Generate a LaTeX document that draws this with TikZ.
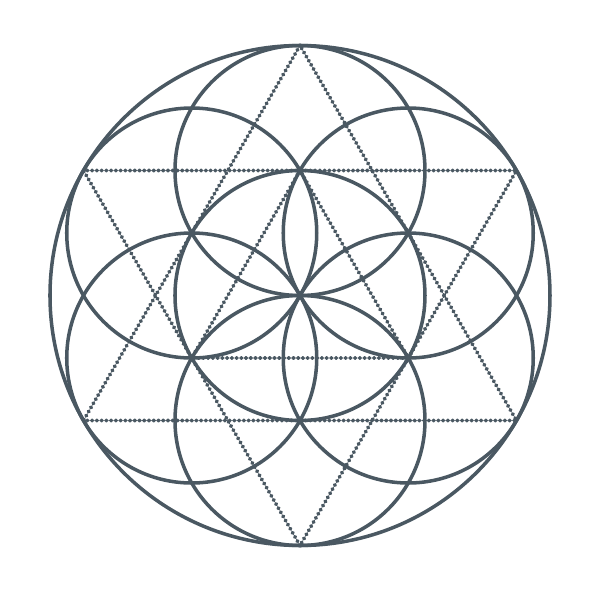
\documentclass[tikz,border=0pt]{standalone}
\usepackage{tikz}
\usetikzlibrary{positioning}
\definecolor{slate}{HTML}{4A5862}
\tikzset{
	ring/.style={draw=slate, line width=1pt},
	dotline/.style={draw=slate, line width=1.1pt, line cap=round, dash pattern=on 0.2pt off 1.15pt}
}

\begin{document}
\begin{tikzpicture}
		\useasboundingbox (-3,-3.045) rectangle (3,2.955);
		% Outer circle
		\draw[ring] (0,0) circle (2.5);
		
		% Points of the star on the outer circle
		\coordinate (T) at (90:2.5);
		\coordinate (UL) at (150:2.5);
		\coordinate (LL) at (210:2.5);
		\coordinate (B) at (270:2.5);
		\coordinate (LR) at (330:2.5);
		\coordinate (UR) at (30:2.5);
		
		% Centres of the inner triangle
		\coordinate (t) at (90:1.25);
		\coordinate (l) at (210:1.25);
		\coordinate (r) at (330:1.25);
		
		% Dotted star and triangle
		\draw[dotline] (T) -- (LL) -- (LR) -- cycle;
		\draw[dotline] (B) -- (UL) -- (UR) -- cycle;
		\draw[dotline] (t) -- (l) -- (r) -- cycle;
		
		% Seven circles
		\draw[ring] (0,0) circle (1.25);
		\foreach \a in {30,90,...,330}
			\draw[ring] (\a:1.25) circle (1.25);
\end{tikzpicture}
\end{document}
